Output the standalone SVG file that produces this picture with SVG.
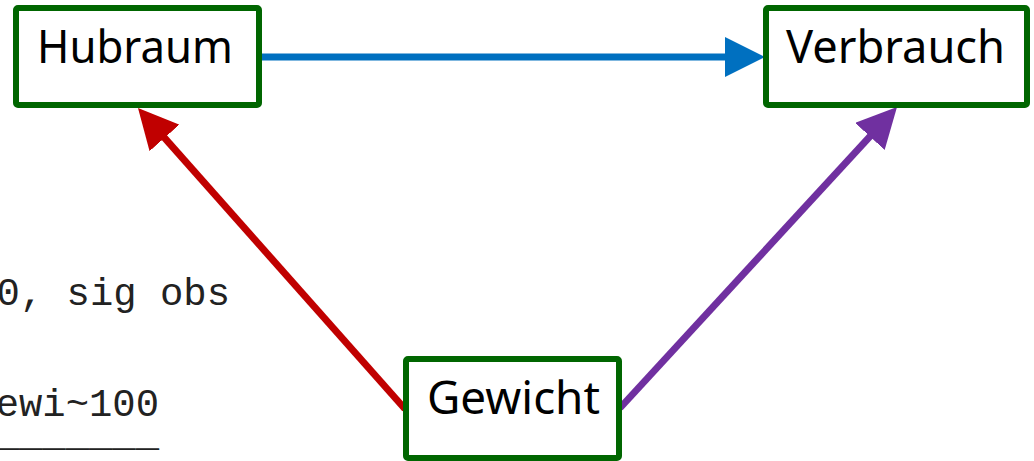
<svg xmlns="http://www.w3.org/2000/svg" width="1034" height="461" viewBox="0 0 1034 461">
  <style>
    .box { fill: #ffffff; stroke: #006600; stroke-width: 6; }
    .label { font-family: "Noto Sans", "DejaVu Sans", sans-serif; font-size: 45px; fill: #000000; text-anchor: middle; }
    .code { font-family: "Liberation Mono", "Courier New", monospace; font-size: 38.9px; fill: #222222; text-anchor: end; }
    .edge { fill: none; stroke-width: 7; stroke-linecap: butt; }
  </style>
  <defs>
    <marker id="head-blue" viewBox="0 0 40 40" refX="10" refY="20" markerWidth="40" markerHeight="40" markerUnits="userSpaceOnUse" orient="auto">
      <path d="M0,0 L40,20 L0,40 z" fill="#0070C0"/>
    </marker>
    <marker id="head-red" viewBox="0 0 40 40" refX="10" refY="20" markerWidth="40" markerHeight="40" markerUnits="userSpaceOnUse" orient="auto">
      <path d="M0,0 L40,20 L0,40 z" fill="#C00000"/>
    </marker>
    <marker id="head-purple" viewBox="0 0 40 40" refX="10" refY="20" markerWidth="40" markerHeight="40" markerUnits="userSpaceOnUse" orient="auto">
      <path d="M0,0 L40,20 L0,40 z" fill="#7030A0"/>
    </marker>
  </defs>

  <!-- code fragment on the left edge -->
  <g id="code-text">
    <text class="code" x="230" y="305">0, sig obs</text>
    <text class="code" x="159" y="416">ewi~100</text>
    <text class="code" x="159" y="446">_______</text>
  </g>

  <!-- connectors -->
  <g id="connectors">
    <line class="edge" stroke="#0070C0" x1="262" y1="57" x2="735" y2="57" marker-end="url(#head-blue)"/>
    <line class="edge" stroke="#C00000" x1="405" y1="409" x2="157.9" y2="130.4" marker-end="url(#head-red)"/>
    <line class="edge" stroke="#7030A0" x1="620" y1="408" x2="876.7" y2="129.1" marker-end="url(#head-purple)"/>
  </g>

  <g id="node-hubraum">
    <rect class="box" x="16" y="8" width="243" height="97" rx="2"/>
    <text class="label" x="135" y="63" textLength="196" lengthAdjust="spacingAndGlyphs">Hubraum</text>
  </g>

  <g id="node-verbrauch">
    <rect class="box" x="766" y="8" width="261" height="97" rx="2"/>
    <text class="label" x="895.5" y="63" textLength="219" lengthAdjust="spacingAndGlyphs">Verbrauch</text>
  </g>

  <g id="node-gewicht">
    <rect class="box" x="406" y="359" width="213" height="99" rx="2"/>
    <text class="label" x="513.5" y="414" textLength="173" lengthAdjust="spacingAndGlyphs">Gewicht</text>
  </g>
</svg>
